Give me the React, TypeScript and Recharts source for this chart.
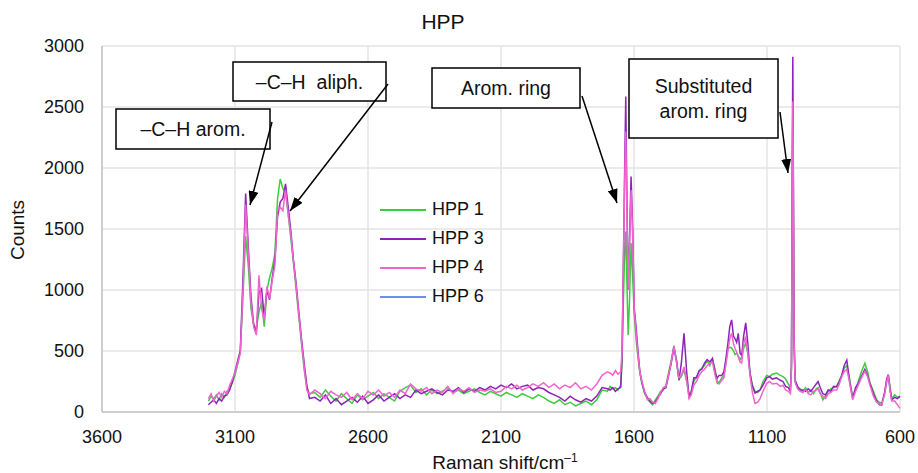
import React from 'react'
import {
  LineChart,
  Line,
  XAxis,
  YAxis,
  CartesianGrid,
  Legend,
} from 'recharts'

// Raman shift (cm-1), left to right on the plot
const shift = [
  3200, 3190, 3180, 3170, 3160, 3150, 3140, 3130, 3120, 3110, 3100, 3090, 3080,
  3070, 3060, 3050, 3040, 3030, 3020, 3010, 3000, 2990, 2980, 2970, 2960, 2950,
  2940, 2930, 2920, 2910, 2900, 2890, 2880, 2870, 2860, 2850, 2840, 2830, 2820,
  2800, 2780, 2760, 2740, 2720, 2700, 2680, 2660, 2640, 2620, 2600, 2580, 2560,
  2540, 2520, 2500, 2480, 2460, 2440, 2420, 2400, 2380, 2360, 2340, 2320, 2300,
  2280, 2260, 2240, 2220, 2200, 2180, 2160, 2140, 2120, 2100, 2080, 2060, 2040,
  2020, 2000, 1980, 1960, 1940, 1920, 1900, 1880, 1860, 1840, 1820, 1800, 1780,
  1760, 1740, 1720, 1700,
  1690, 1680, 1670, 1660, 1650, 1645, 1640, 1635, 1631, 1627, 1622, 1617, 1611,
  1605, 1599, 1592, 1585, 1578, 1570, 1560, 1550, 1540, 1530, 1520, 1510, 1500,
  1490, 1480, 1470, 1460, 1450, 1440, 1431, 1422, 1412, 1402, 1393, 1385, 1375,
  1365, 1355, 1345, 1335, 1325, 1315, 1305, 1295, 1287, 1280, 1270, 1262, 1255,
  1247, 1240, 1233, 1226, 1220, 1214, 1208, 1201, 1195, 1188, 1180, 1172, 1164,
  1155, 1145, 1135, 1126, 1115, 1101, 1090, 1080, 1064, 1050, 1040,
  1030, 1020, 1012, 1008, 1005, 1003, 1001, 998, 994, 985,
  975, 965, 955, 945, 935, 925, 915, 908, 900, 890, 880, 870, 860, 850, 838, 828,
  819, 810, 800, 790, 778, 767, 757, 745, 732, 722, 713, 700, 688, 678, 669, 658,
  650, 644, 637, 631, 620, 610, 600,
]

const hpp1 = [
  90, 130, 110, 140, 100, 150, 120, 170, 190, 240, 300, 390, 500, 950, 1440, 1200,
  850, 720, 680, 820, 900, 700, 1000, 1100, 1180, 1300, 1750, 1910, 1830, 1800,
  1620, 1420, 1220, 1000, 780, 560, 350, 200, 150,
  160, 120, 180, 130, 90, 150, 110, 70, 140, 100, 130, 160, 110, 150, 120, 90,
  170, 200, 220, 160, 190, 140, 180, 150, 170, 200, 160, 180, 150, 170, 190, 160,
  140, 170, 150, 130, 160, 140, 120, 150, 130, 110, 140, 120, 90, 70, 100, 60,
  80, 50, 70, 90, 60, 100, 180, 170,
  210, 190, 200, 180, 220, 400, 900, 1300, 1480, 1100, 630, 900, 1385, 1100, 800,
  590, 450, 320, 230, 150, 110, 80, 60, 100, 130, 170, 180, 220, 320, 420, 545,
  420, 270, 290, 345, 250, 140, 170, 250, 290, 330, 360, 380, 420, 380, 430, 350,
  250, 240, 280, 300, 400, 520, 530, 525, 500, 470, 480, 460, 430, 450, 520, 565,
  480, 320, 220, 170, 160, 180, 250, 300, 290, 310, 320, 300, 290,
  270, 230, 200, 350, 1800, 2500, 1800, 500, 250, 200,
  190, 170, 200, 160, 180, 150, 190, 200, 160, 100, 130, 170, 190, 200, 210, 260,
  300, 360, 380, 280, 120, 180, 250, 330, 400, 330, 240, 170, 100, 80, 70, 150,
  250, 305, 200, 110, 140, 120, 120,
]

const hpp3 = [
  60, 80, 100, 70, 110, 90, 130, 140, 180, 250, 330, 420, 500, 1100, 1790, 1350,
  950, 720, 640, 980, 1010, 780, 1000, 920, 1100, 1250, 1600, 1720, 1750, 1870,
  1680, 1480, 1240, 1050, 820, 600, 400, 220, 110,
  120, 90, 140, 70, 110, 60, 90, 120, 80, 130, 70, 100, 140, 90, 120, 150, 110,
  140, 120, 180, 150, 170, 190, 160, 140, 180, 170, 200, 160, 190, 170, 200, 180,
  210, 190, 220, 200, 230, 190, 210, 220, 180, 200, 190, 160, 140, 120, 90, 130,
  100, 80, 110, 90, 130, 200, 190,
  180, 200, 170, 190, 200, 450, 1200, 2000, 2585, 1800, 1000, 1400, 1930, 1500,
  850, 690, 500, 330, 240, 160, 120, 90, 70, 80, 120, 150, 190, 200, 300, 400,
  530, 420, 260, 400, 645, 330, 125, 160, 280, 280, 340, 350, 400, 430, 410, 440,
  320, 280, 300, 300, 330, 430, 560, 700, 755, 620, 600, 570, 645, 480, 465, 620,
  730, 560, 320, 210, 155, 170, 180, 220, 280, 290, 270, 280, 260, 250,
  210, 200, 170, 400, 2000, 2912, 2000, 600, 260, 210,
  180, 180, 170, 190, 170, 200, 230, 250, 200, 150, 140, 180, 170, 210, 207, 250,
  300, 380, 425, 260, 115, 200, 235, 290, 350, 300, 235, 150, 90, 60, 57, 160,
  270, 305, 180, 100, 120, 110, 130,
]

const hpp4 = [
  110, 150, 90, 130, 160, 120, 170, 150, 220, 270, 320, 400, 480, 1000, 1700,
  1300, 900, 700, 630, 1120, 850, 750, 1030, 930, 1080, 1200, 1650, 1680, 1650,
  1820, 1620, 1450, 1230, 1030, 800, 580, 370, 180, 140,
  180, 150, 110, 170, 140, 120, 160, 100, 150, 110, 170, 140, 180, 130, 160, 120,
  180, 150, 230, 190, 170, 200, 150, 180, 160, 210, 150, 190, 170, 200, 160, 180,
  170, 190, 160, 170, 210, 190, 220, 180, 200, 230, 210, 240, 200, 230, 190, 220,
  200, 240, 190, 210, 180, 230, 300, 330,
  320, 300, 340, 310, 330, 500, 1200, 1900, 2300, 1700, 1000, 1350, 1820, 1450,
  830, 650, 470, 330, 250, 170, 100, 110, 80, 70, 110, 160, 200, 210, 300, 410,
  540, 400, 280, 300, 370, 260, 110, 140, 220, 250, 300, 330, 350, 380, 400, 410,
  300, 235, 230, 260, 280, 380, 500, 600, 645, 560, 520, 490, 450, 410, 400, 560,
  620, 480, 300, 160, 70, 80, 110, 170, 235, 250, 230, 235, 210, 220,
  180, 170, 150, 350, 1900, 2545, 1900, 550, 240, 190,
  170, 160, 190, 150, 140, 170, 180, 190, 150, 130, 110, 150, 160, 180, 180, 230,
  290, 330, 350, 250, 100, 170, 220, 280, 335, 290, 220, 130, 80, 70, 60, 140,
  250, 300, 170, 90, 90, 60, 30,
]

// HPP 6 is not visible anywhere in the plot, only in the legend
const hpp6: (number | null)[] = []

const xTicks = [3600, 3100, 2600, 2100, 1600, 1100, 600]
const yTicks = [0, 500, 1000, 1500, 2000, 2500, 3000]

const series = [
  { key: 'hpp1', name: 'HPP 1', color: '#3ccc3c' },
  { key: 'hpp3', name: 'HPP 3', color: '#8c24b8' },
  { key: 'hpp4', name: 'HPP 4', color: '#f064cf' },
  { key: 'hpp6', name: 'HPP 6', color: '#6f8ff0' },
]

const data = shift.map((s, i) => ({
  shift: s,
  hpp1: hpp1[i],
  hpp3: hpp3[i],
  hpp4: hpp4[i],
  hpp6: hpp6[i] ?? null,
}))

const FONT = '"Liberation Sans", Arial, Helvetica, sans-serif'

const notes = [
  { lines: ['–C–H arom.'], box: [116, 109, 154, 40], from: [272, 122], to: [250, 205] },
  { lines: ['–C–H  aliph.'], box: [233, 62, 153, 39], from: [388, 84], to: [290, 211] },
  { lines: ['Arom. ring'], box: [432, 68, 148, 40], from: [582, 96], to: [617, 203] },
  { lines: ['Substituted', 'arom. ring'], box: [629, 59, 149, 79], from: [780, 112], to: [788, 173] },
]

function LegendBox() {
  return (
    <div style={{ fontFamily: FONT, fontSize: 18, color: '#111' }}>
      {series.map((s) => (
        <div key={s.key} style={{ display: 'flex', alignItems: 'center', height: 29 }}>
          <svg width={50} height={4} style={{ marginRight: 4 }}>
            <line x1={2} y1={2} x2={48} y2={2} stroke={s.color} strokeWidth={2} />
          </svg>
          <span>{s.name}</span>
        </div>
      ))}
    </div>
  )
}

function Overlay() {
  return (
    <svg
      width={918}
      height={473}
      style={{ position: 'absolute', left: 0, top: 0, pointerEvents: 'none' }}
      fontFamily={FONT}
    >
      <defs>
        <marker id="head" markerWidth={14} markerHeight={10} refX={14} refY={5} orient="auto" markerUnits="userSpaceOnUse">
          <path d="M0,0 L14,5 L0,10 z" fill="#000" />
        </marker>
      </defs>
      <text x={443} y={29} textAnchor="middle" fontSize={21} fill="#111">HPP</text>
      <text transform="translate(24,230) rotate(-90)" textAnchor="middle" fontSize={19} fill="#111">Counts</text>
      <text x={505} y={469} textAnchor="middle" fontSize={19} fill="#111">
        Raman shift/cm<tspan dy={-7} fontSize={12}>–1</tspan>
      </text>
      {notes.map((n, i) => {
        const [bx, by, bw, bh] = n.box
        const cx = bx + bw / 2
        const top = by + bh / 2 - ((n.lines.length - 1) * 25) / 2 + 7
        return (
          <g key={i}>
            <rect x={bx} y={by} width={bw} height={bh} fill="#fff" stroke="#000" strokeWidth={1.5} />
            {n.lines.map((l, j) => (
              <text key={j} x={cx} y={top + j * 25} textAnchor="middle" fontSize={19.5} fill="#111" xmlSpace="preserve">
                {l}
              </text>
            ))}
            <line x1={n.from[0]} y1={n.from[1]} x2={n.to[0]} y2={n.to[1]} stroke="#000" strokeWidth={1.5} markerEnd="url(#head)" />
          </g>
        )
      })}
    </svg>
  )
}

export default function App() {
  return (
    <div style={{ position: 'absolute', left: 0, top: 0, width: 918, height: 473, background: '#fff' }}>
      <LineChart
        width={918}
        height={473}
        data={data}
        margin={{ top: 46, right: 18, left: 0, bottom: 31 }}
      >
        <CartesianGrid stroke="#e4e4e4" strokeWidth={1.5} />
        <XAxis
          dataKey="shift"
          type="number"
          domain={[600, 3600]}
          ticks={xTicks}
          reversed
          height={30}
          tickLine={false}
          axisLine={{ stroke: '#c4c4c4', strokeWidth: 1.5 }}
          tick={{ fill: '#111', fontSize: 18, fontFamily: FONT }}
          tickMargin={12}
        />
        <YAxis
          type="number"
          domain={[0, 3000]}
          ticks={yTicks}
          width={102}
          tickLine={false}
          axisLine={{ stroke: '#c4c4c4', strokeWidth: 1.5 }}
          tick={{ fill: '#111', fontSize: 18, fontFamily: FONT }}
          tickMargin={12}
        />
        <Legend
          layout="vertical"
          align="center"
          verticalAlign="middle"
          content={() => <LegendBox />}
          wrapperStyle={{ left: 378, top: 195, width: 140 }}
        />
        {series.map((s) => (
          <Line
            key={s.key}
            type="linear"
            dataKey={s.key}
            name={s.name}
            stroke={s.color}
            strokeWidth={1.5}
            dot={false}
            isAnimationActive={false}
            connectNulls={false}
          />
        ))}
      </LineChart>
      <Overlay />
    </div>
  )
}
